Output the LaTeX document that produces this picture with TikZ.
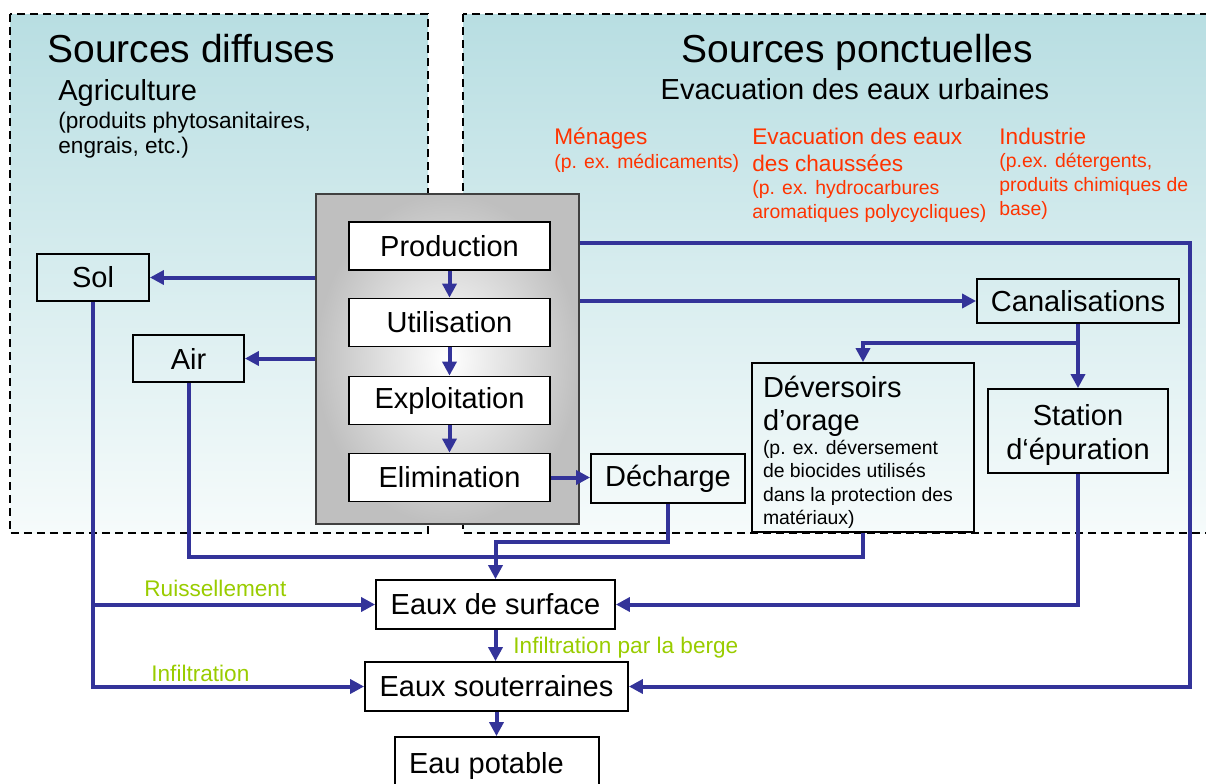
\documentclass[tikz,border=0pt]{standalone}
\usepackage{fontspec}
\setmainfont{Liberation Sans}
\usetikzlibrary{arrows.meta}
\setlength{\parindent}{0pt}
\definecolor{bleu}{RGB}{51,51,153}
\definecolor{rouge}{RGB}{255,51,0}
\definecolor{vert}{RGB}{153,204,0}
\definecolor{ciel}{RGB}{184,222,226}
\definecolor{pale}{RGB}{246,251,251}
\newcommand{\fTitre}{\fontsize{19.5}{23}\selectfont}
\newcommand{\fNoeud}{\fontsize{14.5}{16.5}\selectfont}
\newcommand{\fSous}{\fontsize{11.3}{12.5}\selectfont}
\newcommand{\fRouge}{\fontsize{11.3}{13.5}\selectfont}
\newcommand{\fPetit}{\fontsize{9.7}{11.8}\selectfont}
\begin{document}
\begin{tikzpicture}[x=0.5pt, y=-0.5pt,
        b/.style={draw, line width=0.9pt, inner sep=0pt, font=\fNoeud},
        e/.style={b, fill=white, minimum width=100.5pt, minimum height=24pt},
        f/.style={draw=bleu, line width=2pt, -{Triangle[length=7pt, width=7pt]}},
        l/.style={draw=bleu, line width=2pt},
        zone/.style={line width=1.2pt, dash pattern=on 4pt off 2.5pt, top color=ciel, bottom color=pale},
        txt/.style={inner sep=0pt, align=flush left, anchor=north west},
        lbl/.style={inner sep=0pt, anchor=base west, font=\fSous, text=vert}]
            \useasboundingbox (0,0) rectangle (1206,783);
            \clip (0,0) rectangle (1206,783);

            \draw[zone] (10,14) rectangle (428,533);
            \draw[zone] (463,14) rectangle (1220,533);

            \node[inner sep=0pt, anchor=base west, font=\fTitre] (tdiff) at (47,62) {Sources diffuses};
            \node[txt, text width=140pt, font=\fNoeud] (agri) at (58,79) {Agriculture\par\vspace{1.5pt}{\fSous (produits phytosanitaires,\\engrais, etc.)\par}};
            \node[inner sep=0pt, anchor=base, font=\fTitre] (tponc) at (857.5,62) {Sources ponctuelles};
            \node[inner sep=0pt, anchor=base, font=\fNoeud] (evac) at (855,99) {Evacuation des eaux urbaines};

            \node[txt, text width=100pt, text=rouge] (menages) at (554,127.5) {{\fRouge Ménages\par}{\fPetit (p. ex. médicaments)\par}};
            \node[txt, text width=125pt, text=rouge] (chaussees) at (752,127.5) {{\fRouge Evacuation des eaux\\des chaussées\par}{\fPetit (p. ex. hydrocarbures\\aromatiques polycycliques)\par}};
            \node[txt, text width=100pt, text=rouge] (industrie) at (999,127.5) {{\fRouge Industrie\par}{\fPetit (p.ex. détergents,\\produits chimiques de\\base)\par}};

            \node[draw=black!75, line width=0.6pt, inner color=white, outer color=black!25, minimum width=131.5pt, minimum height=165pt] (vie) at (447.5,359) {};
            \node[e] (prod) at (449.5,246) {Production};
            \node[e] (util) at (449.5,322.5) {Utilisation};
            \node[e] (expl) at (449.5,400.5) {Exploitation};
            \node[e] (elim) at (449.5,477.5) {Elimination};

            \node[b, minimum width=56pt, minimum height=23.5pt] (sol) at (93,277.5) {Sol};
            \node[b, minimum width=55.5pt, minimum height=23.5pt] (air) at (188.5,358.5) {Air};
            \node[b, minimum width=101pt, minimum height=22pt] (canal) at (1078,301) {Canalisations};
            \node[b, text width=90pt, align=center, font=\fontsize{14.5}{17}\selectfont, minimum height=42pt] (station) at (1078,431) {\rule{0pt}{14.6pt}Station\\d‘épuration\par};
            \node[b, text width=100pt, inner xsep=5.5pt, align=flush left, minimum height=84.5pt] (devers) at (863,447.5) {\rule{0pt}{15.7pt}Déversoirs\\d’orage\par{\fPetit (p. ex. déversement\\de biocides utilisés\\dans la protection des\\matériaux)\par}};
            \node[b, minimum width=77pt, minimum height=24.5pt] (decharge) at (668,478.5) {Décharge};

            \node[b, minimum width=119.5pt, minimum height=24.5pt] (surface) at (495.5,604.5) {Eaux de surface};
            \node[b, minimum width=131.5pt, minimum height=24.5pt] (souterr) at (496.5,686.5) {Eaux souterraines};
            \node[b, text width=88pt, inner xsep=7pt, align=flush left, minimum height=29pt] (potable) at (497,766) {Eau potable};

            \node[lbl] (ruis) at (144,596) {Ruissellement};
            \node[lbl] (infil) at (151,681) {Infiltration};
            \node[lbl] (berge) at (513,653) {Infiltration par la berge};

            \coordinate (bord) at (1190,243);
            \coordinate (branche) at (1078,343);
            \coordinate (rangA) at (494,542);
            \coordinate (rangB) at (494,557);

            \draw[f] (prod) -- (util);
            \draw[f] (util) -- (expl);
            \draw[f] (expl) -- (elim);
            \draw[f] (sol -| vie.west) -- (sol.east);
            \draw[f] (air -| vie.west) -- (air.east);
            \draw[f] (elim.east) -- (elim.east -| decharge.west);
            \draw[f] (canal -| vie.east) -- (canal.west);
            \draw[f] (bord -| vie.east) -- (bord) |- (souterr.east);
            \draw[f] (canal.south) -- (station.north);
            \draw[f] (branche) -| (devers.north);
            \draw[f] (decharge.south) |- (rangA -| surface.north) -- (surface.north);
            \draw[l] (air.south) |- (rangB -| surface.north);
            \draw[l] (devers.south) |- (rangB -| surface.north);
            \draw[f] (station.south) |- (surface.east);
            \draw[f] (sol.south) |- (souterr.west);
            \draw[f] (sol.south |- surface) -- (surface.west);
            \draw[f] (surface.south) -- (surface.south |- souterr.north);
            \draw[f] (souterr.south) -- (souterr.south |- potable.north);
        \end{tikzpicture}
\end{document}
